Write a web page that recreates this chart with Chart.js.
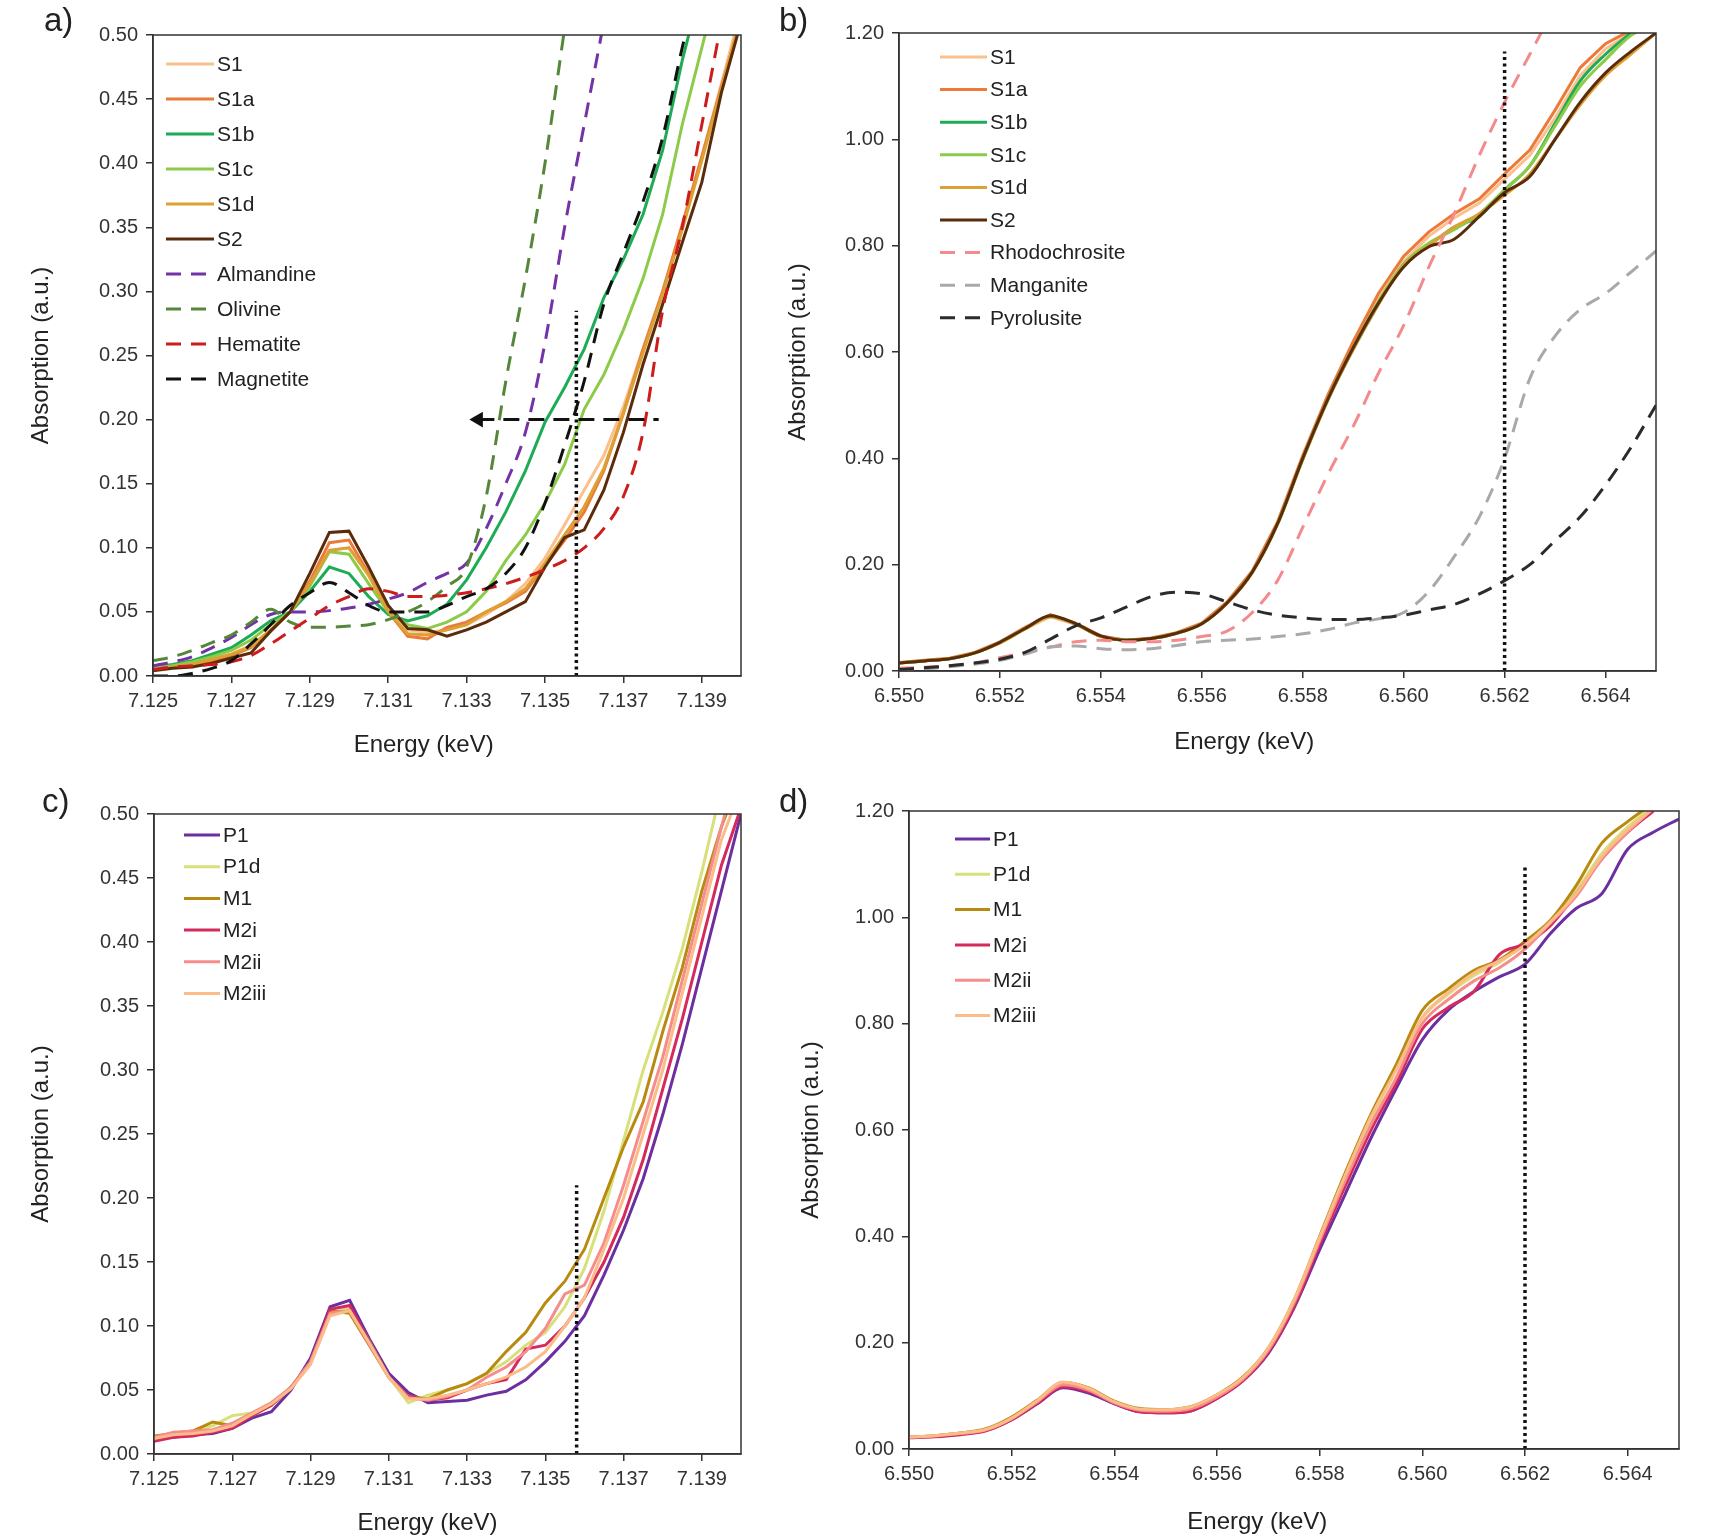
<!DOCTYPE html>
<html>
<head>
<meta charset="utf-8">
<title>XANES pre-edge</title>
<script src="https://cdn.jsdelivr.net/npm/chart.js@4.4.1/dist/chart.umd.min.js"></script>
<style>
  body { margin: 0; background: #fff; }
  #page { position: relative; width: 1725px; height: 1540px; background: #fff; font-family: "Liberation Sans", Arial, sans-serif; }
  .panel { position: absolute; }
  .tag { position: absolute; font-size: 33px; line-height: 1; color: #222; }
</style>
</head>
<body>
<div id="page">
  <div class="panel" style="left:0;top:0;width:760px;height:770px"><canvas id="chartA"></canvas></div>
  <div class="panel" style="left:760px;top:0;width:965px;height:770px"><canvas id="chartB"></canvas></div>
  <div class="panel" style="left:0;top:770px;width:760px;height:770px"><canvas id="chartC"></canvas></div>
  <div class="panel" style="left:760px;top:770px;width:965px;height:770px"><canvas id="chartD"></canvas></div>
  <div class="tag" style="left:44px;top:3px">a)</div>
  <div class="tag" style="left:779px;top:3px">b)</div>
  <div class="tag" style="left:42px;top:784px">c)</div>
  <div class="tag" style="left:779px;top:784px">d)</div>
</div>
<script>
// Energie (keV) - Fe K edge e Mn K edge
const energyFe = [7.1250, 7.1255, 7.1260, 7.1265, 7.1270, 7.1275, 7.1280, 7.1285, 7.1290, 7.1295, 7.1300, 7.1305, 7.1310, 7.1315, 7.1320, 7.1325, 7.1330, 7.1335, 7.1340, 7.1345, 7.1350, 7.1355, 7.1360, 7.1365, 7.1370, 7.1375, 7.1380, 7.1385, 7.1390, 7.1395, 7.1400];
const energyMn = [6.5500, 6.5505, 6.5510, 6.5515, 6.5520, 6.5525, 6.5530, 6.5535, 6.5540, 6.5545, 6.5550, 6.5555, 6.5560, 6.5565, 6.5570, 6.5575, 6.5580, 6.5585, 6.5590, 6.5595, 6.5600, 6.5605, 6.5610, 6.5615, 6.5620, 6.5625, 6.5630, 6.5635, 6.5640, 6.5645, 6.5650];

// Tick labels
const xTicksFe = [7.125, 7.127, 7.129, 7.131, 7.133, 7.135, 7.137, 7.139];
const xTicksMn = [6.550, 6.552, 6.554, 6.556, 6.558, 6.560, 6.562, 6.564];
const yTicksFe = [0, 0.05, 0.10, 0.15, 0.20, 0.25, 0.30, 0.35, 0.40, 0.45, 0.50];
const yTicksMn = [0, 0.20, 0.40, 0.60, 0.80, 1.00, 1.20];

// a) Fe, campioni S + standard
const feS1  = [0.006,0.008,0.010,0.013,0.017,0.024,0.036,0.050,0.072,0.098,0.100,0.078,0.052,0.036,0.034,0.036,0.040,0.048,0.058,0.072,0.092,0.118,0.145,0.172,0.210,0.255,0.300,0.350,0.405,0.462,0.520];
const feS1a = [0.005,0.007,0.009,0.012,0.016,0.022,0.035,0.050,0.074,0.104,0.106,0.080,0.050,0.031,0.029,0.038,0.042,0.050,0.057,0.066,0.086,0.106,0.128,0.160,0.205,0.255,0.300,0.352,0.405,0.460,0.512];
const feS1b = [0.007,0.009,0.012,0.017,0.022,0.032,0.043,0.050,0.066,0.085,0.080,0.062,0.048,0.043,0.047,0.056,0.075,0.100,0.128,0.160,0.198,0.225,0.255,0.295,0.325,0.360,0.410,0.480,0.540,null,null];
const feS1c = [0.006,0.008,0.011,0.015,0.020,0.028,0.040,0.050,0.070,0.097,0.095,0.072,0.050,0.040,0.037,0.042,0.050,0.066,0.090,0.110,0.135,0.165,0.208,0.235,0.270,0.310,0.360,0.430,0.490,0.550,null];
const feS1d = [0.005,0.007,0.009,0.013,0.017,0.023,0.036,0.050,0.072,0.098,0.100,0.079,0.050,0.033,0.032,0.036,0.040,0.050,0.058,0.068,0.088,0.110,0.132,0.162,0.205,0.252,0.298,0.348,0.402,0.458,0.515];
const feS2  = [0.004,0.006,0.007,0.010,0.014,0.018,0.035,0.050,0.080,0.112,0.113,0.085,0.055,0.037,0.036,0.031,0.036,0.042,0.050,0.058,0.085,0.108,0.114,0.145,0.190,0.243,0.290,0.338,0.385,0.455,0.510];
const almandine = [0.008,0.011,0.015,0.022,0.030,0.040,0.048,0.050,0.050,0.051,0.053,0.056,0.060,0.065,0.073,0.080,0.088,0.115,0.150,0.190,0.260,0.350,0.430,0.510,null,null,null,null,null,null,null];
const olivine   = [0.012,0.015,0.020,0.026,0.032,0.042,0.052,0.042,0.038,0.038,0.039,0.040,0.044,0.050,0.058,0.070,0.085,0.140,0.230,0.310,0.400,0.505,null,null,null,null,null,null,null,null,null];
const hematite  = [0.005,0.007,0.008,0.009,0.011,0.016,0.025,0.035,0.045,0.055,0.062,0.068,0.066,0.062,0.062,0.063,0.065,0.068,0.072,0.077,0.083,0.090,0.100,0.115,0.140,0.190,0.285,0.350,0.430,0.510,null];
const magnetite = [0.000,0.000,0.002,0.006,0.012,0.025,0.040,0.055,0.065,0.073,0.065,0.055,0.050,0.050,0.050,0.055,0.062,0.068,0.080,0.100,0.135,0.180,0.230,0.290,0.330,0.370,0.420,0.490,0.550,null,null];

// b) Mn, campioni S + standard
const mnS1  = [0.015,0.019,0.023,0.034,0.053,0.079,0.102,0.088,0.065,0.058,0.061,0.071,0.089,0.128,0.186,0.278,0.400,0.515,0.612,0.700,0.770,0.818,0.852,0.880,0.925,0.970,1.040,1.120,1.170,1.200,null];
const mnS1a = [0.016,0.020,0.024,0.035,0.055,0.082,0.106,0.090,0.066,0.058,0.062,0.072,0.090,0.130,0.188,0.280,0.405,0.520,0.620,0.710,0.780,0.826,0.860,0.888,0.935,0.980,1.055,1.135,1.180,1.205,null];
const mnS1b = [0.015,0.019,0.023,0.034,0.054,0.080,0.103,0.088,0.065,0.058,0.061,0.071,0.089,0.128,0.186,0.276,0.398,0.510,0.605,0.690,0.765,0.800,0.835,0.855,0.905,0.950,1.030,1.110,1.160,1.200,null];
const mnS1c = [0.015,0.019,0.023,0.034,0.053,0.079,0.102,0.088,0.065,0.058,0.061,0.071,0.089,0.128,0.186,0.277,0.400,0.512,0.608,0.695,0.765,0.805,0.830,0.860,0.905,0.950,1.025,1.100,1.150,1.195,1.220];
const mnS1d = [0.015,0.019,0.023,0.034,0.053,0.079,0.102,0.088,0.065,0.058,0.061,0.071,0.089,0.127,0.185,0.276,0.398,0.510,0.605,0.690,0.762,0.800,0.835,0.860,0.895,0.935,1.000,1.065,1.120,1.160,1.200];
const mnS2  = [0.015,0.019,0.023,0.034,0.054,0.080,0.104,0.089,0.066,0.058,0.061,0.071,0.089,0.128,0.186,0.277,0.400,0.512,0.608,0.692,0.760,0.798,0.812,0.855,0.900,0.930,1.000,1.070,1.125,1.165,1.200];
const rhodochrosite = [0.005,0.007,0.010,0.015,0.025,0.035,0.045,0.055,0.058,0.055,0.055,0.058,0.065,0.075,0.110,0.170,0.270,0.370,0.460,0.560,0.650,0.760,0.860,0.970,1.070,1.160,1.250,null,null,null,null];
const manganite     = [0.000,0.004,0.008,0.013,0.020,0.032,0.045,0.047,0.042,0.040,0.042,0.048,0.055,0.058,0.060,0.065,0.070,0.078,0.090,0.098,0.110,0.150,0.215,0.290,0.400,0.550,0.630,0.680,0.710,0.750,0.790];
const pyrolusite    = [0.003,0.006,0.010,0.015,0.022,0.035,0.060,0.085,0.100,0.120,0.140,0.148,0.145,0.130,0.115,0.105,0.100,0.097,0.097,0.100,0.105,0.115,0.125,0.145,0.170,0.200,0.245,0.290,0.350,0.420,0.500];

// c) Fe, campioni P/M
const feP1   = [0.012,0.013,0.015,0.016,0.020,0.028,0.033,0.050,0.075,0.115,0.120,0.090,0.063,0.048,0.040,0.041,0.042,0.046,0.049,0.058,0.072,0.088,0.108,0.140,0.175,0.215,0.265,0.320,0.380,0.440,0.500];
const feP1d  = [0.012,0.016,0.018,0.022,0.030,0.032,0.040,0.052,0.072,0.110,0.114,0.088,0.060,0.040,0.046,0.050,0.055,0.063,0.072,0.085,0.095,0.115,0.145,0.190,0.245,0.300,0.345,0.395,0.455,0.520,null];
const feM1   = [0.014,0.016,0.018,0.025,0.022,0.030,0.038,0.052,0.072,0.112,0.110,0.085,0.060,0.045,0.043,0.050,0.055,0.063,0.080,0.095,0.118,0.135,0.160,0.200,0.240,0.275,0.330,0.380,0.440,0.490,0.530];
const feM2i  = [0.010,0.013,0.014,0.017,0.020,0.030,0.038,0.052,0.072,0.113,0.116,0.088,0.060,0.045,0.042,0.044,0.050,0.055,0.058,0.082,0.085,0.100,0.122,0.150,0.185,0.230,0.285,0.340,0.400,0.460,0.505];
const feM2ii = [0.013,0.017,0.018,0.019,0.024,0.032,0.040,0.052,0.072,0.110,0.112,0.086,0.060,0.044,0.042,0.045,0.050,0.060,0.068,0.080,0.098,0.125,0.132,0.165,0.210,0.260,0.310,0.370,0.430,0.490,0.545];
const feM2iii = [0.012,0.015,0.016,0.018,0.022,0.031,0.039,0.051,0.070,0.108,0.112,0.087,0.060,0.043,0.043,0.046,0.050,0.055,0.060,0.068,0.080,0.100,0.122,0.160,0.200,0.250,0.300,0.360,0.420,0.480,0.520];

// d) Mn, campioni P/M
const mnP1   = [0.022,0.024,0.028,0.035,0.055,0.085,0.115,0.105,0.085,0.070,0.068,0.072,0.095,0.128,0.180,0.265,0.375,0.480,0.585,0.680,0.770,0.825,0.860,0.888,0.912,0.970,1.017,1.045,1.128,1.160,1.185];
const mnP1d  = [0.022,0.025,0.030,0.037,0.058,0.090,0.122,0.112,0.088,0.075,0.073,0.079,0.100,0.133,0.188,0.278,0.395,0.515,0.620,0.715,0.810,0.855,0.890,0.915,0.950,0.990,1.050,1.120,1.170,1.210,null];
const mnM1   = [0.022,0.025,0.030,0.038,0.060,0.092,0.125,0.115,0.090,0.076,0.074,0.080,0.102,0.135,0.190,0.280,0.400,0.520,0.630,0.725,0.825,0.865,0.900,0.920,0.955,0.995,1.060,1.140,1.180,1.215,null];
const mnM2i  = [0.021,0.023,0.027,0.034,0.055,0.086,0.117,0.108,0.086,0.070,0.068,0.072,0.095,0.128,0.182,0.268,0.385,0.495,0.600,0.690,0.790,0.830,0.860,0.930,0.950,0.985,1.045,1.110,1.160,1.200,null];
const mnM2ii = [0.022,0.025,0.029,0.036,0.057,0.089,0.121,0.111,0.087,0.073,0.071,0.076,0.098,0.131,0.186,0.275,0.392,0.505,0.610,0.700,0.800,0.845,0.880,0.905,0.940,0.990,1.040,1.110,1.160,1.205,null];
const mnM2iii = [0.022,0.025,0.030,0.037,0.058,0.091,0.126,0.114,0.089,0.075,0.074,0.080,0.102,0.134,0.190,0.280,0.398,0.515,0.625,0.715,0.812,0.858,0.895,0.918,0.948,0.992,1.045,1.115,1.165,1.205,null];

// Linee guida (posizione del bordo e freccia)
const edgeFeX = [7.1358, 7.1358];
const edgeFeAY = [0, 0.285];
const edgeFeCY = [0, 0.21];
const edgeMnX = [6.562, 6.562];
const edgeMnBY = [0, 1.165];
const edgeMnDY = [0, 1.10];
const arrowX = [7.1333, 7.1379];
const arrowY = [0.20, 0.20];

const FONT = '"Liberation Sans", Arial, sans-serif';
Chart.defaults.font.family = FONT;

const DASH = [15, 10];

function serie(label, xs, ys, color, extra = {}) {
  return Object.assign({
    label,
    data: xs.map((x, i) => ({ x, y: ys[i] })),
    borderColor: color,
    backgroundColor: color,
    borderWidth: 3,
    pointRadius: 0,
    tension: 0,
    fill: false
  }, extra);
}

function dashed(label, xs, ys, color) {
  return serie(label, xs, ys, color, { borderDash: DASH, cubicInterpolationMode: 'monotone' });
}

function guide(xs, ys) {
  return serie('', xs, ys, '#111', { borderDash: [3, 3.5], borderWidth: 3.5, isGuide: true, order: -100 });
}

// Cornice intorno all'area del grafico
const framePlugin = {
  id: 'frame',
  afterDatasetsDraw(chart) {
    const { ctx, chartArea: a } = chart;
    ctx.save();
    ctx.strokeStyle = '#333';
    ctx.lineWidth = 1.5;
    ctx.strokeRect(a.left, a.top, a.right - a.left, a.bottom - a.top);
    ctx.restore();
  }
};

// Legenda dentro l'area del grafico
const legendPlugin = {
  id: 'insideLegend',
  afterDraw(chart, args, opts) {
    const { ctx, chartArea } = chart;
    const x = chartArea.left + opts.left;
    let y = chartArea.top + opts.top;
    ctx.save();
    ctx.font = '21px ' + FONT;
    ctx.textBaseline = 'middle';
    chart.data.datasets.filter(d => !d.isGuide).forEach(d => {
      ctx.beginPath();
      ctx.setLineDash(d.borderDash || []);
      ctx.strokeStyle = d.borderColor;
      ctx.lineWidth = d.borderWidth;
      ctx.moveTo(x, y);
      ctx.lineTo(x + opts.sample, y);
      ctx.stroke();
      ctx.setLineDash([]);
      ctx.fillStyle = '#222';
      ctx.fillText(d.label, x + opts.sample + 3, y + 1);
      y += opts.step;
    });
    ctx.restore();
  }
};

function makeChart(id, datasets, cfg) {
  const tickFont = { size: 20 };
  const titleFont = { size: 24 };
  datasets.forEach((d, i) => { if (d.order === undefined) d.order = -i; });
  // nel riferimento il titolo dell'asse x sta un po' a sinistra del centro
  const xTitle = 'Energy (keV)' + ' '.repeat(cfg.xTitleShift);
  return new Chart(document.getElementById(id), {
    type: 'line',
    data: { datasets },
    plugins: [framePlugin, legendPlugin],
    options: {
      responsive: true,
      maintainAspectRatio: false,
      animation: false,
      events: [],
      layout: { padding: { top: cfg.padTop, right: cfg.padRight, left: 0, bottom: 0 } },
      plugins: {
        legend: { display: false },
        tooltip: { enabled: false },
        insideLegend: cfg.legend
      },
      scales: {
        x: {
          type: 'linear',
          min: cfg.xMin,
          max: cfg.xMax,
          afterBuildTicks: s => { s.ticks = cfg.xTicks.map(v => ({ value: v })); },
          afterFit: s => { s.height = cfg.xHeight; },
          ticks: { callback: v => v.toFixed(3), font: tickFont, color: '#333', padding: 6, maxRotation: 0, autoSkip: false },
          grid: { drawOnChartArea: false, tickLength: 7, color: '#333', lineWidth: 1.5 },
          border: { color: '#333', width: 1.5 },
          title: { display: true, text: xTitle, font: titleFont, color: '#222', padding: { top: 0, bottom: cfg.xTitlePad } }
        },
        y: {
          type: 'linear',
          min: 0,
          max: cfg.yMax,
          afterBuildTicks: s => { s.ticks = cfg.yTicks.map(v => ({ value: v })); },
          afterFit: s => { s.width = cfg.yWidth; },
          ticks: { callback: v => v.toFixed(2), font: tickFont, color: '#333', padding: 8 },
          grid: { drawOnChartArea: false, tickLength: 7, color: '#333', lineWidth: 1.5 },
          border: { color: '#333', width: 1.5 },
          title: { display: true, text: 'Absorption (a.u.)', font: titleFont, color: '#222', padding: { top: cfg.yTitlePad, bottom: 0 } }
        }
      }
    }
  });
}

// a)
const arrow = serie('', arrowX, arrowY, '#111', {
  borderDash: [16, 9], borderWidth: 3, isGuide: true, order: -101,
  pointRadius: [9, 0], pointStyle: 'triangle', pointRotation: -90, pointBackgroundColor: '#111', pointBorderWidth: 0
});
makeChart('chartA', [
  serie('S1', energyFe, feS1, '#FBC08E'),
  serie('S1a', energyFe, feS1a, '#EC7A3A'),
  serie('S1b', energyFe, feS1b, '#1DAB55'),
  serie('S1c', energyFe, feS1c, '#8CCB4A'),
  serie('S1d', energyFe, feS1d, '#DDA032'),
  serie('S2', energyFe, feS2, '#5B2C0C'),
  dashed('Almandine', energyFe, almandine, '#7332A6'),
  dashed('Olivine', energyFe, olivine, '#55873A'),
  dashed('Hematite', energyFe, hematite, '#CC1C1C'),
  dashed('Magnetite', energyFe, magnetite, '#111111'),
  guide(edgeFeX, edgeFeAY),
  arrow
], {
  xMin: 7.125, xMax: 7.140, xTicks: xTicksFe, yMax: 0.5, yTicks: yTicksFe,
  padTop: 35, padRight: 19, yWidth: 153, xHeight: 94, xTitlePad: 10, yTitlePad: 27, xTitleShift: 7,
  legend: { left: 13, top: 29, step: 35, sample: 48 }
});

// b)
makeChart('chartB', [
  serie('S1', energyMn, mnS1, '#FBC08E'),
  serie('S1a', energyMn, mnS1a, '#EC7A3A'),
  serie('S1b', energyMn, mnS1b, '#1DAB55', { cubicInterpolationMode: 'monotone' }),
  serie('S1c', energyMn, mnS1c, '#8CCB4A', { cubicInterpolationMode: 'monotone' }),
  serie('S1d', energyMn, mnS1d, '#DDA032', { cubicInterpolationMode: 'monotone' }),
  serie('S2', energyMn, mnS2, '#5B2C0C', { cubicInterpolationMode: 'monotone' }),
  dashed('Rhodochrosite', energyMn, rhodochrosite, '#F48A8C'),
  dashed('Manganite', energyMn, manganite, '#A9A9A9'),
  dashed('Pyrolusite', energyMn, pyrolusite, '#2B2B2B'),
  guide(edgeMnX, edgeMnBY)
], {
  xMin: 6.550, xMax: 6.565, xTicks: xTicksMn, yMax: 1.2, yTicks: yTicksMn,
  padTop: 33, padRight: 69, yWidth: 139, xHeight: 99, xTitlePad: 13, yTitlePad: 24, xTitleShift: 10,
  legend: { left: 41, top: 24, step: 32.6, sample: 47 }
});

// c)
makeChart('chartC', [
  serie('P1', energyFe, feP1, '#6B2FA0'),
  serie('P1d', energyFe, feP1d, '#D8E07A'),
  serie('M1', energyFe, feM1, '#B98A10'),
  serie('M2i', energyFe, feM2i, '#D42A5C'),
  serie('M2ii', energyFe, feM2ii, '#F68C8C'),
  serie('M2iii', energyFe, feM2iii, '#FBBC88'),
  guide(edgeFeX, edgeFeCY)
], {
  xMin: 7.125, xMax: 7.140, xTicks: xTicksFe, yMax: 0.5, yTicks: yTicksFe,
  padTop: 44, padRight: 19, yWidth: 154, xHeight: 86, xTitlePad: 2, yTitlePad: 27, xTitleShift: 6,
  legend: { left: 30, top: 21, step: 31.7, sample: 36 }
});

// d)
makeChart('chartD', [
  serie('P1', energyMn, mnP1, '#6B2FA0', { cubicInterpolationMode: 'monotone' }),
  serie('P1d', energyMn, mnP1d, '#D8E07A', { cubicInterpolationMode: 'monotone' }),
  serie('M1', energyMn, mnM1, '#B98A10', { cubicInterpolationMode: 'monotone' }),
  serie('M2i', energyMn, mnM2i, '#D42A5C', { cubicInterpolationMode: 'monotone' }),
  serie('M2ii', energyMn, mnM2ii, '#F68C8C', { cubicInterpolationMode: 'monotone' }),
  serie('M2iii', energyMn, mnM2iii, '#FBBC88', { cubicInterpolationMode: 'monotone' }),
  guide(edgeMnX, edgeMnDY)
], {
  xMin: 6.550, xMax: 6.565, xTicks: xTicksMn, yMax: 1.2, yTicks: yTicksMn,
  padTop: 41, padRight: 46, yWidth: 149, xHeight: 91, xTitlePad: 3, yTitlePad: 37, xTitleShift: 11,
  legend: { left: 46, top: 28, step: 35.3, sample: 35 }
});
</script>
</body>
</html>
